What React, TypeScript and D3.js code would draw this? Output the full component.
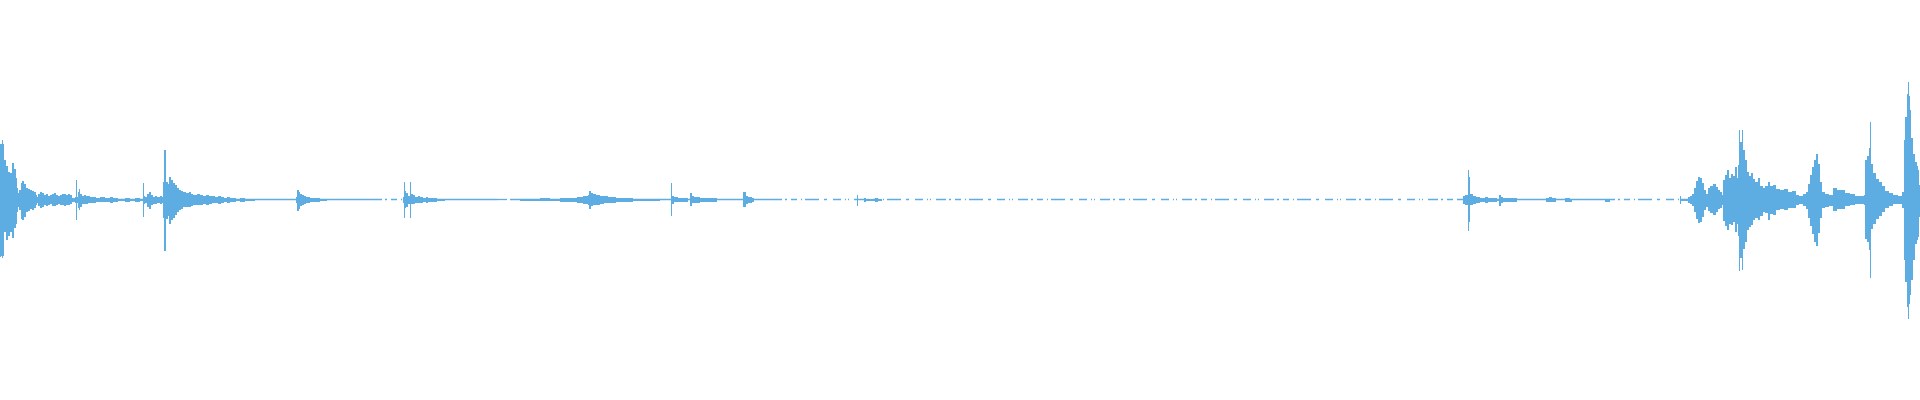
import React from "react";
import * as d3 from "d3";

// Waveform envelope keyframes (frame = time column), peak amplitude above / below zero
const frames = [
  0, 1, 3, 4, 6, 8, 10, 12, 14, 16,
  17, 18, 19, 21, 22, 24, 26, 28, 30, 32,
  34, 36, 37, 38, 40, 42, 44, 46, 48, 50,
  52, 54, 56, 58, 60, 62, 64, 66, 68, 70,
  72, 75, 77, 78, 79, 80, 82, 84, 86, 88,
  90, 96, 100, 105, 110, 113, 118, 125, 130, 135,
  140, 144, 145, 147, 149, 151, 153, 155, 157, 160,
  162, 163, 166, 168, 169, 171, 173, 175, 177, 179,
  181, 183, 186, 189, 191, 193, 197, 200, 203, 206,
  209, 212, 215, 218, 221, 224, 227, 230, 236, 240,
  245, 255, 295, 296, 297, 299, 300, 302, 304, 306,
  310, 320, 327, 402, 403, 405, 406, 408, 409, 411,
  413, 415, 418, 420, 423, 426, 428, 437, 445, 515,
  520, 540, 550, 560, 570, 577, 583, 588, 589, 591,
  593, 596, 600, 604, 608, 612, 616, 625, 633, 660,
  671, 672, 674, 678, 688, 689, 690, 692, 694, 700,
  710, 717, 742, 743, 746, 748, 752, 754, 863, 864,
  866, 875, 878, 882, 1457, 1463, 1465, 1467, 1470, 1471,
  1473, 1476, 1480, 1485, 1488, 1497, 1499, 1501, 1503, 1512,
  1517, 1545, 1546, 1549, 1552, 1556, 1564, 1565, 1570, 1572,
  1604, 1605, 1610, 1679, 1680, 1681, 1686, 1688, 1690, 1692,
  1694, 1696, 1698, 1700, 1702, 1704, 1706, 1708, 1710, 1713,
  1716, 1718, 1720, 1722, 1723, 1725, 1727, 1729, 1731, 1733,
  1735, 1737, 1738, 1740, 1741, 1743, 1745, 1747, 1749, 1751,
  1753, 1755, 1758, 1760, 1763, 1765, 1768, 1770, 1773, 1776,
  1780, 1784, 1788, 1792, 1796, 1799, 1803, 1806, 1808, 1810,
  1812, 1814, 1816, 1818, 1820, 1822, 1825, 1829, 1833, 1837,
  1841, 1845, 1850, 1855, 1860, 1864, 1865, 1867, 1869, 1870,
  1871, 1873, 1876, 1879, 1882, 1885, 1889, 1893, 1898, 1902,
  1904, 1905, 1907, 1909, 1910, 1911, 1913, 1915, 1917, 1918,
  1919, 1920,
];

const peakHigh = [
  56, 56, 56, 40, 34, 28, 27, 37, 31, 22,
  12, 7, 10, 17, 19, 16, 12, 11, 10, 9,
  8, 5, 3, 6, 8, 7, 5, 6, 4, 5,
  6, 7, 5, 4, 5, 6, 6, 5, 6, 5,
  2, 3, 3, 8, 11, 6, 4, 5, 4, 4,
  3, 2, 3, 2, 3, 2, 1, 2, 1, 2,
  1, 4, 3, 6, 8, 5, 3, 4, 3, 4,
  3, 18, 18, 16, 23, 20, 17, 15, 12, 10,
  9, 8, 7, 8, 6, 5, 6, 5, 4, 5,
  4, 4, 3, 4, 3, 2, 3, 2, 1, 2,
  1, 0, 0, 3, 10, 8, 6, 5, 4, 3,
  2, 1, 0, 0, 3, 9, 7, 4, 4, 6,
  5, 3, 4, 3, 2, 3, 2, 1, 0, 0,
  1, 2, 1, 2, 2, 3, 4, 5, 9, 7,
  6, 5, 4, 4, 3, 3, 2, 2, 1, 0,
  0, 4, 3, 2, 0, 0, 7, 4, 3, 2,
  2, 0, 0, 8, 4, 3, 2, 0, 0, 2,
  1, 2, 1, 0, 0, 4, 5, 5, 6, 6,
  4, 3, 2, 3, 2, 1, 5, 3, 2, 2,
  0, 0, 2, 3, 2, 0, 0, 2, 1, 0,
  0, 0, 0, 0, 4, 1, 1, 3, 4, 6,
  12, 19, 23, 22, 17, 10, 6, 12, 14, 16,
  13, 10, 8, 5, 20, 25, 30, 22, 26, 24,
  33, 22, 35, 58, 58, 50, 40, 28, 24, 27,
  21, 18, 22, 14, 12, 14, 18, 14, 15, 11,
  10, 11, 8, 9, 5, 4, 6, 8, 16, 25,
  33, 40, 46, 36, 18, 8, 6, 5, 12, 10,
  10, 7, 6, 4, 4, 5, 40, 44, 52, 45,
  36, 27, 21, 18, 14, 9, 7, 5, 4, 8,
  60, 83, 106, 104, 90, 62, 46, 38, 34, 30,
  15, 15,
];

const peakLow = [
  57, 56, 56, 32, 40, 36, 32, 38, 28, 24,
  12, 7, 10, 19, 20, 17, 12, 11, 9, 10,
  8, 5, 3, 6, 8, 7, 5, 6, 5, 4,
  6, 6, 5, 4, 5, 5, 6, 5, 5, 4,
  2, 3, 3, 8, 10, 7, 4, 4, 4, 3,
  3, 2, 2, 2, 3, 2, 1, 2, 1, 2,
  1, 4, 3, 7, 9, 5, 4, 4, 3, 4,
  3, 18, 19, 16, 24, 20, 18, 15, 12, 10,
  9, 7, 7, 7, 6, 5, 5, 5, 4, 5,
  4, 3, 3, 4, 3, 2, 3, 2, 1, 2,
  1, 0, 0, 3, 11, 9, 6, 5, 4, 3,
  2, 1, 0, 0, 3, 8, 7, 4, 4, 4,
  4, 3, 3, 3, 2, 3, 2, 1, 0, 0,
  1, 1, 1, 2, 2, 3, 4, 5, 9, 6,
  5, 5, 4, 3, 3, 3, 2, 2, 1, 0,
  0, 4, 2, 2, 0, 0, 6, 3, 3, 2,
  2, 0, 0, 7, 4, 3, 2, 0, 0, 2,
  1, 2, 1, 0, 0, 4, 5, 5, 5, 5,
  4, 3, 2, 3, 2, 1, 6, 3, 2, 2,
  0, 0, 2, 2, 2, 0, 0, 2, 2, 0,
  0, 2, 0, 0, 4, 1, 1, 3, 4, 6,
  12, 19, 23, 22, 17, 10, 7, 11, 13, 15,
  12, 9, 8, 5, 21, 26, 30, 24, 25, 22,
  32, 24, 36, 58, 58, 49, 42, 30, 27, 25,
  20, 18, 20, 16, 12, 13, 20, 14, 15, 10,
  9, 10, 8, 8, 5, 4, 6, 9, 18, 26,
  34, 42, 46, 33, 18, 8, 7, 6, 11, 9,
  9, 6, 5, 4, 4, 5, 39, 42, 50, 40,
  29, 24, 19, 16, 12, 8, 6, 4, 4, 8,
  60, 82, 107, 104, 95, 80, 60, 44, 40, 37,
  17, 17,
];

// single-column transients (clicks)
const spikeFrame = [2, 76, 143, 164, 165, 404, 410, 671, 857, 1468, 1469, 1739, 1742, 1870, 1908];
const spikeHigh = [60, 20, 17, 50, 50, 18, 18, 17, 5, 30, 23, 70, 70, 78, 118];
const spikeLow = [58, 20, 17, 51, 51, 18, 18, 16, 6, 31, 22, 71, 70, 78, 119];

// near-silent stretches where the zero line is broken up
const quietStart = [372, 497, 772, 1605];
const quietEnd = [403, 510, 1457, 1680];

const WIDTH = 1920;
const HEIGHT = 400;
const COLOR = "#5dade2";

export default function App() {
  const x = d3.scaleLinear().domain([0, 1920]).range([0, WIDTH]);
  const y = d3.scaleLinear().domain([-200, 200]).range([HEIGHT - 0.5, -0.5]);

  const n = Math.min(frames.length, peakHigh.length, peakLow.length);
  const idx = d3.range(n);
  const area = d3
    .area<number>()
    .x((i) => x(frames[i]))
    .y0((i) => y(-peakLow[i]))
    .y1((i) => y(peakHigh[i]))
    .curve(d3.curveStepAfter);

  const solid: [number, number][] = [];
  let cur = 0;
  quietStart.forEach((s, k) => {
    solid.push([cur, s]);
    cur = quietEnd[k];
  });
  solid.push([cur, 1920]);

  const y0 = y(0);

  return (
    <svg
      width={WIDTH}
      height={HEIGHT}
      style={{ position: "absolute", left: 0, top: 0, background: "#ffffff" }}
    >
      <g>
        {solid.map(([a, b], k) => (
          <line
            key={"s" + k}
            x1={x(a)}
            x2={x(b)}
            y1={y0}
            y2={y0}
            stroke={COLOR}
            strokeWidth={1.3}
          />
        ))}
        {quietStart.map((s, k) => (
          <line
            key={"q" + k}
            x1={x(s)}
            x2={x(quietEnd[k])}
            y1={y0}
            y2={y0}
            stroke={COLOR}
            strokeWidth={1.3}
            strokeDasharray="10 3 2 4 6 4 1 3 14 5 3 6 8 4 1 2 1 5"
          />
        ))}
        <g shapeRendering="crispEdges">
          <path d={area(idx) || ""} fill={COLOR} stroke="none" />
          {spikeFrame.map((f, k) => (
            <rect
              key={"k" + k}
              x={x(f)}
              width={1}
              y={y(spikeHigh[k])}
              height={y(-spikeLow[k]) - y(spikeHigh[k])}
              fill={COLOR}
            />
          ))}
        </g>
      </g>
    </svg>
  );
}
